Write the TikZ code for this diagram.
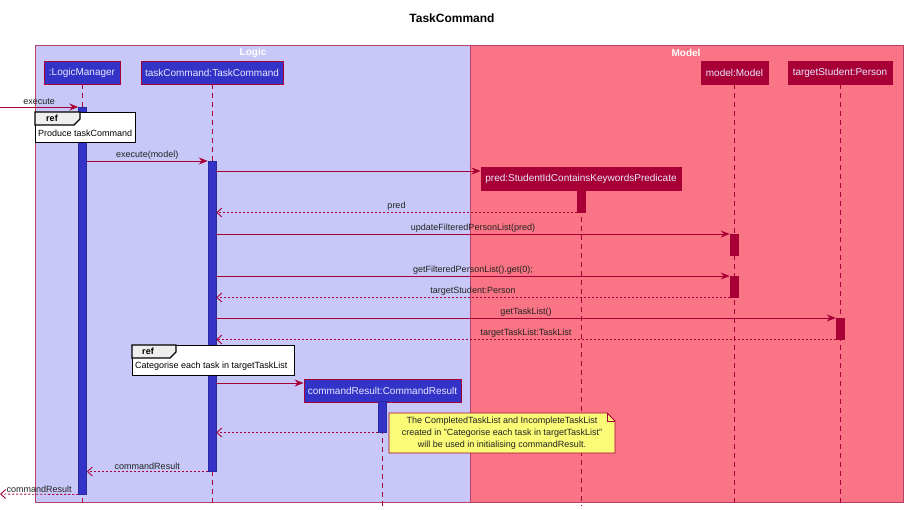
\documentclass[tikz,border=0pt]{standalone}
\usepackage{fontspec}
\setmainfont{Liberation Sans}
\usetikzlibrary{arrows.meta}
\definecolor{lav}{HTML}{C8C8F8}
\definecolor{modc}{HTML}{F97484}
\definecolor{blu}{HTML}{3333C8}
\definecolor{drd}{HTML}{A80036}
\definecolor{grpb}{HTML}{B8406A}
\definecolor{notey}{HTML}{FBFB77}
\definecolor{txt}{HTML}{222222}
\definecolor{ptxt}{HTML}{E8E8FF}
\definecolor{tabg}{HTML}{EEEEEE}
\tikzset{
  grp/.style={draw=grpb, line width=1.3pt},
  grptitle/.style={text=white, font=\fontsize{10}{12}\selectfont\bfseries, inner sep=0pt},
  partb/.style={draw=drd, fill=blu, line width=0.9pt, minimum height=23pt, inner sep=0pt, text=ptxt, font=\fontsize{10}{12}\selectfont},
  partr/.style={draw=drd, fill=drd, line width=0.9pt, minimum height=23pt, inner sep=0pt, text=ptxt, font=\fontsize{10}{12}\selectfont},
  lifeline/.style={draw=drd, line width=0.8pt, dash pattern=on 5pt off 4pt},
  actb/.style={draw=blu!80!black, fill=blu, line width=0.5pt, minimum width=8pt, inner sep=0pt, anchor=north},
  actr/.style={draw=drd, fill=drd, line width=0.5pt, minimum width=8pt, inner sep=0pt, anchor=north},
  sync/.style={draw=drd, line width=0.9pt, -{Stealth[length=9pt,width=7pt,inset=3pt]}},
  ret/.style={draw=drd, line width=0.9pt, dash pattern=on 2pt off 2pt, -{Straight Barb[length=5pt,width=9pt]}},
  msg/.style={text=txt, font=\fontsize{9}{11}\selectfont, inner sep=1.5pt, above},
  reffr/.style={draw=black, fill=white, line width=1.3pt, anchor=north west, inner sep=0pt},
  reftab/.style={draw=black, fill=tabg, line width=1.1pt},
  reftxt/.style={text=black, font=\fontsize{9}{11}\selectfont, inner sep=0pt, anchor=west},
  refhd/.style={text=black, font=\fontsize{9}{11}\selectfont\bfseries, inner sep=0pt},
  notebox/.style={draw=drd, fill=notey, line width=0.8pt},
}
\begin{document}
\begin{tikzpicture}[x=1pt,y=-1pt]
\useasboundingbox[fill=white] (0,0) rectangle (905,510);
% title
\node[font=\fontsize{12}{14}\selectfont\bfseries, text=black] (title) at (452,18) {TaskCommand};
% groups
\node[grp, fill=lav, anchor=north west, minimum width=435pt, minimum height=457pt, inner sep=0pt] (logic) at (35,45) {};
\node[grp, fill=modc, anchor=north west, minimum width=433pt, minimum height=457pt, inner sep=0pt] (model) at (470,45) {};
\node[grptitle] (logict) at (253,53) {Logic};
\node[grptitle] (modelt) at (686,53) {Model};
% participants
\node[partb, minimum width=76pt] (lm) at (82,72.5) {:LogicManager};
\node[partb, minimum width=142pt] (tc) at (212,72.5) {taskCommand:TaskCommand};
\node[partr, minimum width=67pt] (mm) at (734.5,72.5) {model:Model};
\node[partr, minimum width=104pt] (ts) at (840,72.5) {targetStudent:Person};
\node[partr, minimum width=200pt] (pr) at (581,178.5) {pred:StudentIdContainsKeywordsPredicate};
\node[partb, minimum width=157pt] (cr) at (382.5,390.5) {commandResult:CommandResult};
% lifelines
\coordinate (lmend) at (82,506);
\coordinate (tcend) at (212,506);
\coordinate (mmend) at (734.5,506);
\coordinate (tsend) at (840,506);
\coordinate (prend) at (581,506);
\coordinate (crend) at (382.5,506);
\draw[lifeline] (lm.south) -- (lmend);
\draw[lifeline] (tc.south) -- (tcend);
\draw[lifeline] (mm.south) -- (mmend);
\draw[lifeline] (ts.south) -- (tsend);
\draw[lifeline] (pr.south) -- (prend);
\draw[lifeline] (cr.south) -- (crend);
% activations
\node[actb, minimum height=387pt] (lmact) at (82.5,107) {};
\node[actb, minimum height=310pt] (tcact) at (212,161) {};
\node[actr, minimum height=22pt] (pract) at (581,190) {};
\node[actr, minimum height=21pt] (mmact1) at (734,234) {};
\node[actr, minimum height=21pt] (mmact2) at (734,276) {};
\node[actr, minimum height=21pt] (tsact) at (840,318) {};
\node[actb, minimum height=31pt] (cract) at (382.5,401) {};
% messages
\coordinate (entry) at (0,107);
\coordinate (exitp) at (0,494);
\draw[sync] (entry) -- node[msg] {execute} (lmact.north west);
\draw[sync] (lmact.east |- 0,161) -- node[msg] {execute(model)} (tcact.north west);
\draw[sync] (tcact.east |- 0,171) -- (pr.west |- 0,171);
\draw[ret] (pract.south west) -- node[msg] {pred} (tcact.east |- pract.south);
\draw[sync] (tcact.east |- 0,234) -- node[msg] {updateFilteredPersonList(pred)} (mmact1.north west);
\draw[sync] (tcact.east |- 0,276) -- node[msg] {getFilteredPersonList().get(0);} (mmact2.north west);
\draw[ret] (mmact2.south west) -- node[msg] {targetStudent:Person} (tcact.east |- mmact2.south);
\draw[sync] (tcact.east |- 0,318) -- node[msg] {getTaskList()} (tsact.north west);
\draw[ret] (tsact.south west) -- node[msg] {targetTaskList:TaskList} (tcact.east |- tsact.south);
\draw[sync] (tcact.east |- 0,383) -- (cr.west |- 0,383);
\draw[ret] (cract.south west) -- (tcact.east |- cract.south);
\draw[ret] (tcact.south west) -- node[msg] {commandResult} (lmact.east |- tcact.south);
\draw[ret] (lmact.south west) -- node[msg] {commandResult} (exitp);
% ref frames
\node[reffr, minimum width=100pt, minimum height=30pt] (ref1) at (35,112) {};
\draw[reftab] (ref1.north west) -- ++(45,0) -- ++(0,7) -- ++(-6,6) -- ++(-39,0) -- cycle;
\node[refhd] (ref1h) at (52,118.5) {ref};
\node[reftxt] (ref1t) at (38,133.5) {Produce taskCommand};
\node[reffr, minimum width=162pt, minimum height=30pt] (ref2) at (132,345) {};
\draw[reftab] (ref2.north west) -- ++(44,0) -- ++(0,7) -- ++(-6,6) -- ++(-38,0) -- cycle;
\node[refhd] (ref2h) at (148,351.5) {ref};
\node[reftxt] (ref2t) at (135,366.5) {Categorise each task in targetTaskList};
% note
\draw[notebox] (389,413) -- (607,413) -- (615,421) -- (615,453) -- (389,453) -- cycle;
\draw[notebox, fill=none] (607,413) -- (607,421) -- (615,421);
\node[text=txt, font=\fontsize{9}{12}\selectfont, align=center, inner sep=0pt] (note) at (502,433) {The CompletedTaskList and IncompleteTaskList\\created in "Categorise each task in targetTaskList"\\will be used in initialising commandResult.};
\end{tikzpicture}
\end{document}
